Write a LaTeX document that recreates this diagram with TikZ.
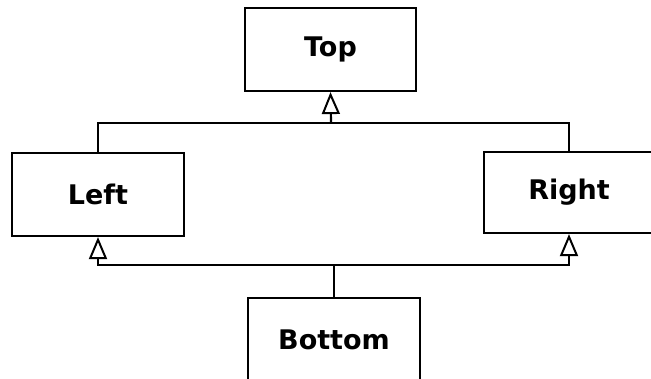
\documentclass[tikz,border=0pt]{standalone}
\usepackage{fontspec}
\setmainfont{DejaVu Sans}
\usetikzlibrary{arrows.meta}
\begin{document}
\begin{tikzpicture}[x=1pt,y=1pt,
  box/.style={draw, line width=2.2pt, fill=white, inner sep=0pt, font=\fontsize{27}{30}\selectfont\bfseries},
  conn/.style={line width=2.2pt},
  inh/.style={conn, -{Triangle[open, length=22pt, width=18pt, line width=2pt]}}]
\useasboundingbox (0,0) rectangle (651,378);
\clip (0,0) rectangle (651,378);
\fill[white] (0,0) rectangle (651,378);
\node[box, minimum width=171pt, minimum height=83pt] (top) at (330.5,328.5) {Top};
\node[box, minimum width=172pt, minimum height=83pt] (left) at (98,183.5) {Left};
\node[box, minimum width=170pt, minimum height=81pt] (right) at (569,185.5) {Right};
\node[box, minimum width=172pt, minimum height=83pt] (bottom) at (334,38.5) {Bottom};
\coordinate (j1) at (331,255);
\coordinate (j2) at (334,113);
\draw[conn] (left.north) |- (j1);
\draw[conn] (right.north) |- (j1);
\draw[inh] (j1) -- (top.south);
\draw[conn] (bottom.north) -- (j2);
\draw[inh] (j2) -| (left.south);
\draw[inh] (j2) -| (right.south);
\end{tikzpicture}
\end{document}
